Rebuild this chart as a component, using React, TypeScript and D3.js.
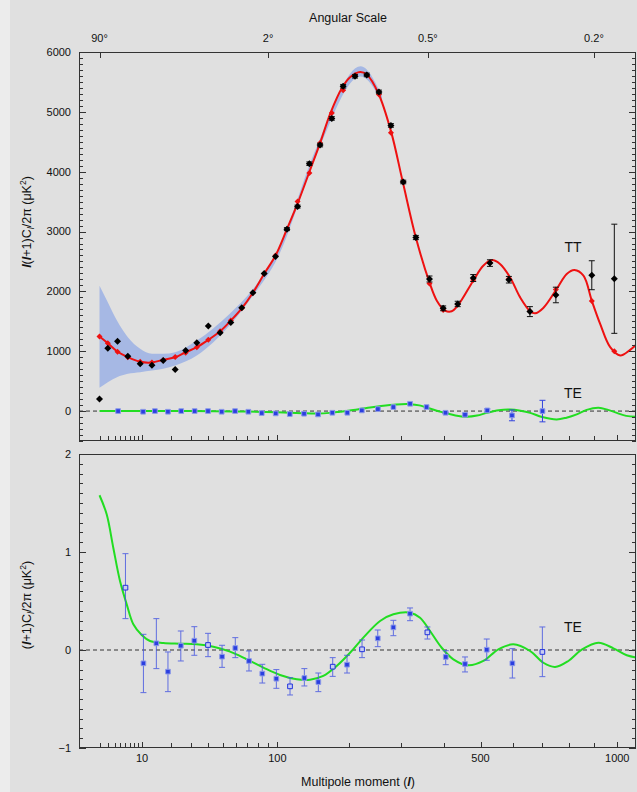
import React, { useEffect, useRef } from "react";
import * as d3 from "d3";

// TT binned data (black diamonds) + binned model (red diamonds)
const ttL = [2, 3, 4.5, 6.5, 9.5, 13, 17, 22, 27, 33, 40, 48, 56, 65, 75, 86, 98, 111, 124, 139.5, 154.5, 172, 190, 210, 231, 254, 278, 304, 332, 364, 398, 436, 479, 528, 587, 657, 750, 891, 987];
const ttV = [200, 1050, 1167, 917, 790, 767, 845, 695, 1012, 1140, 1423, 1307, 1478, 1728, 1978, 2300, 2583, 3040, 3417, 4133, 4445, 4890, 5428, 5595, 5617, 5333, 4773, 3828, 2900, 2207, 1717, 1790, 2223, 2473, 2195, 1662, 1940, 2270, 2211];
const ttErr = [0, 0, 0, 0, 0, 0, 0, 0, 0, 0, 0, 0, 0, 0, 0, 0, 0, 25, 25, 30, 30, 30, 30, 30, 30, 30, 30, 30, 35, 50, 40, 45, 58, 55, 55, 83, 130, 242, 912];
const ttModel = [1245, 1133, 990, 900, 823, 812, 850, 905, 975, 1067, 1190, 1333, 1512, 1717, 1978, 2295, 2600, 3040, 3500, 3980, 4480, 4980, 5360, 5610, 5620, 5290, 4650, 3830, 2900, 2130, 1690, 1780, 2190, 2480, 2210, 1670, 2030, 1840, 1000];

// TT model curve (red line)
const ttCurveL = [2, 3, 4.4, 6.5, 9.5, 13, 17, 22, 27, 33, 40, 48, 56, 65, 75, 86, 98, 111, 125, 140, 155, 170, 188, 202, 219, 231, 253, 278, 303, 332, 364, 382, 403, 420, 438, 479, 508, 534, 559, 591, 624, 658, 675, 704, 753, 791, 821, 857, 891, 926, 969, 1013, 1058, 1090];
const ttCurveV = [1245, 1133, 1000, 900, 823, 812, 857, 900, 983, 1067, 1190, 1333, 1512, 1717, 1978, 2295, 2600, 3040, 3500, 4012, 4495, 4983, 5400, 5583, 5665, 5623, 5307, 4678, 3828, 2900, 2150, 1845, 1678, 1667, 1778, 2178, 2428, 2523, 2457, 2233, 1900, 1667, 1633, 1723, 2040, 2290, 2357, 2262, 1845, 1457, 1067, 928, 1023, 1123];

// cosmic variance band (light blue)
const bandL = [2, 3, 4.4, 6.5, 9.5, 13, 17, 22, 33, 55, 75, 100, 150, 220, 260];
const bandLo = [390, 483, 567, 623, 650, 678, 707, 762, 928, 1428, 1925, 2550, 4300, 5590, 5160];
const bandHi = [2095, 1817, 1512, 1233, 1040, 957, 957, 983, 1178, 1623, 2035, 2665, 4420, 5760, 5260];

// TE in the upper panel, l(l+1)C/2π
const teTopL = [4.6, 10.3, 14, 18.9, 24.8, 31.8, 39.8, 49.1, 59.4, 70.8, 83.5, 98.2, 114.4, 132.4, 151.6, 172.8, 196.9, 222, 252, 283, 319, 357, 404, 456, 520, 597, 701];
const teTopV = [0, -11, 0, -11, 0, 0, 0, -11, 0, -11, -33, -39, -50, -44, -56, -28, -28, 11, 33, 67, 122, 67, -28, -61, 11, -72, 0];
const teTopErr = [0, 0, 0, 0, 0, 0, 0, 0, 0, 0, 0, 0, 0, 0, 0, 0, 0, 0, 0, 0, 0, 0, 10, 15, 25, 90, 180];
const teTopCurveL = [2, 10, 30, 60, 100, 130, 150, 169, 185, 201, 237, 276, 300, 319, 340, 357, 380, 403, 430, 461, 490, 518, 555, 591, 625, 658, 700, 753, 790, 830, 870, 919, 960, 998, 1040, 1090];
const teTopCurveV = [0, 0, 0, -5, -20, -35, -40, -30, -10, 10, 60, 100, 115, 115, 95, 60, 10, -30, -75, -95, -75, -30, 15, 25, 5, -30, -100, -140, -110, -55, 20, 55, 20, -30, -80, -95];

// TE lower panel, (l+1)C/2π
const teL = [6, 10.4, 14.5, 18.9, 24.6, 31.6, 39.8, 49.4, 59.6, 71.4, 84.1, 98.9, 114.7, 132.8, 152, 173.4, 196.4, 222.4, 251.7, 283, 318.9, 359, 404.5, 456, 518.4, 598.3, 700.7];
const teV = [0.636, -0.136, 0.068, -0.221, 0.044, 0.095, 0.051, -0.068, 0.02, -0.112, -0.241, -0.293, -0.371, -0.286, -0.327, -0.17, -0.15, 0.007, 0.119, 0.231, 0.371, 0.18, -0.071, -0.143, 0.003, -0.136, -0.02];
const teHi = [0.983, 0.16, 0.32, -0.02, 0.194, 0.238, 0.17, 0.048, 0.126, -0.01, -0.146, -0.2, -0.282, -0.19, -0.235, -0.078, -0.054, 0.102, 0.204, 0.303, 0.429, 0.235, -0.007, -0.071, 0.112, 0.014, 0.235];
const teLo = [0.32, -0.435, -0.19, -0.425, -0.112, -0.054, -0.068, -0.177, -0.078, -0.214, -0.337, -0.391, -0.459, -0.367, -0.425, -0.269, -0.235, -0.078, 0.034, 0.146, 0.299, 0.112, -0.15, -0.224, -0.105, -0.286, -0.272];
const teOpen = [0, 6, 12, 15, 17, 21, 26];
const teCurveL = [2, 2.85, 3.8, 4.94, 6.26, 7.75, 9.91, 12.38, 17.06, 24.2, 32.9, 43.3, 55.4, 69.3, 85.2, 103, 123, 140.4, 159.2, 179.6, 201.5, 224.7, 256.2, 283, 318.9, 341.7, 365.4, 394.3, 424.4, 465.2, 508.4, 553.8, 601.5, 657.5, 704.3, 747, 797.4, 850, 918.6, 983, 1042.6, 1090];
const teCurveV = [1.579, 1.385, 1.044, 0.704, 0.466, 0.262, 0.153, 0.092, 0.071, 0.064, 0.058, 0.034, -0.017, -0.095, -0.18, -0.255, -0.299, -0.303, -0.265, -0.163, -0.028, 0.126, 0.296, 0.364, 0.381, 0.33, 0.194, 0.023, -0.095, -0.156, -0.112, 0.007, 0.058, -0.01, -0.13, -0.173, -0.112, 0.003, 0.074, 0.017, -0.054, -0.078];

// axes
const lTicks = [2, 3, 4, 5, 6, 7, 8, 9, 10, 20, 30, 40, 50, 60, 70, 80, 90, 100, 200, 300, 400, 500, 600, 700, 800, 900, 1000];
const lLabels = [10, 100, 500, 1000];
const angL = [2, 90, 360, 900];
const angLabels = ["90°", "2°", "0.5°", "0.2°"];
const ttTickLabels = [0, 1000, 2000, 3000, 4000, 5000, 6000];
const teTickLabels = [-1, 0, 1, 2];

const W = 637;
const H = 792;
const FONT = "'Liberation Sans', Arial, sans-serif";

const App: React.FC = () => {
  const svgRef = useRef<SVGSVGElement>(null);

  useEffect(() => {
    if (!svgRef.current) return;
    const svg = d3.select(svgRef.current);
    svg.selectAll("*").remove();

    const left = 79, right = 636;
    const top1 = 52, bot1 = 441, top2 = 454, bot2 = 748;

    const x = d3.scalePow().exponent(0.4).domain([0.477, 1085]).range([left, right]);
    const y1 = d3.scaleLinear().domain([-500, 6000]).range([bot1, top1]);
    const y2 = d3.scaleLinear().domain([-1, 2]).range([bot2, top2]);

    svg.append("rect").attr("width", W).attr("height", H).attr("fill", "#e0e0e0");
    svg.append("rect").attr("width", 10).attr("height", H).attr("fill", "#ececec");

    const defs = svg.append("defs");
    defs.append("clipPath").attr("id", "c1").append("rect")
      .attr("x", left).attr("y", top1).attr("width", right - left).attr("height", bot1 - top1);
    defs.append("clipPath").attr("id", "c2").append("rect")
      .attr("x", left).attr("y", top2).attr("width", right - left).attr("height", bot2 - top2);

    // diamond a bit squatter than d3's default
    const diamond = (r: number) => `M0,${-r}L${r},0L0,${r}L${-r},0Z`;

    // ---------- top panel ----------
    const p1 = svg.append("g").attr("clip-path", "url(#c1)");

    const band = d3.area<number>()
      .x((i) => x(bandL[i]))
      .y0((i) => y1(bandLo[i]))
      .y1((i) => y1(bandHi[i]))
      .curve(d3.curveMonotoneX);
    p1.append("path").attr("d", band(d3.range(bandL.length))).attr("fill", "#a6b8e4");

    p1.append("line")
      .attr("x1", left).attr("x2", right).attr("y1", y1(0)).attr("y2", y1(0))
      .attr("stroke", "#333").attr("stroke-width", 1).attr("stroke-dasharray", "4,3");

    const ttLine = d3.line<number>()
      .x((i) => x(ttCurveL[i]))
      .y((i) => y1(ttCurveV[i]))
      .curve(d3.curveCatmullRom);
    p1.append("path").attr("d", ttLine(d3.range(ttCurveL.length)))
      .attr("fill", "none").attr("stroke", "#ee1111").attr("stroke-width", 2);

    const teTopLine = d3.line<number>()
      .x((i) => x(teTopCurveL[i]))
      .y((i) => y1(teTopCurveV[i]))
      .curve(d3.curveCatmullRom);
    p1.append("path").attr("d", teTopLine(d3.range(teTopCurveL.length)))
      .attr("fill", "none").attr("stroke", "#22dd22").attr("stroke-width", 2);

    // red binned model
    p1.selectAll(".model").data(ttL).enter().append("path")
      .attr("d", diamond(3))
      .attr("transform", (d, i) => `translate(${x(d)},${y1(ttModel[i])})`)
      .attr("fill", "#ee1111");

    // TT error bars
    const errG = p1.append("g").attr("stroke", "#111").attr("stroke-width", 1);
    ttL.forEach((l, i) => {
      if (!ttErr[i]) return;
      const cx = x(l), a = y1(ttV[i] + ttErr[i]), b = y1(ttV[i] - ttErr[i]);
      errG.append("line").attr("x1", cx).attr("x2", cx).attr("y1", a).attr("y2", b);
      errG.append("line").attr("x1", cx - 3).attr("x2", cx + 3).attr("y1", a).attr("y2", a);
      errG.append("line").attr("x1", cx - 3).attr("x2", cx + 3).attr("y1", b).attr("y2", b);
    });
    p1.selectAll(".tt").data(ttL).enter().append("path")
      .attr("d", diamond(3.5))
      .attr("transform", (d, i) => `translate(${x(d)},${y1(ttV[i])})`)
      .attr("fill", "#000");

    // TE points on top panel
    const teTopErrG = p1.append("g").attr("stroke", "#3344dd").attr("stroke-width", 1);
    teTopL.forEach((l, i) => {
      if (!teTopErr[i]) return;
      const cx = x(l), a = y1(teTopV[i] + teTopErr[i]), b = y1(teTopV[i] - teTopErr[i]);
      teTopErrG.append("line").attr("x1", cx).attr("x2", cx).attr("y1", a).attr("y2", b);
      teTopErrG.append("line").attr("x1", cx - 3).attr("x2", cx + 3).attr("y1", a).attr("y2", a);
      teTopErrG.append("line").attr("x1", cx - 3).attr("x2", cx + 3).attr("y1", b).attr("y2", b);
    });
    p1.selectAll(".tetop").data(teTopL).enter().append("path")
      .attr("d", d3.symbol(d3.symbolSquare, 22)())
      .attr("transform", (d, i) => `translate(${x(d)},${y1(teTopV[i])})`)
      .attr("fill", "#2b3fe0").attr("stroke", "#8d9ae8").attr("stroke-width", 1);

    // ---------- bottom panel ----------
    const p2 = svg.append("g").attr("clip-path", "url(#c2)");
    p2.append("line")
      .attr("x1", left).attr("x2", right).attr("y1", y2(0)).attr("y2", y2(0))
      .attr("stroke", "#333").attr("stroke-width", 1).attr("stroke-dasharray", "4,3");

    const teLine = d3.line<number>()
      .x((i) => x(teCurveL[i]))
      .y((i) => y2(teCurveV[i]))
      .curve(d3.curveCatmullRom);
    p2.append("path").attr("d", teLine(d3.range(teCurveL.length)))
      .attr("fill", "none").attr("stroke", "#22dd22").attr("stroke-width", 2);

    const teErrG = p2.append("g").attr("stroke", "#4a5ae0").attr("stroke-width", 1).attr("opacity", 0.85);
    teL.forEach((l, i) => {
      const cx = x(l), a = y2(teHi[i]), b = y2(teLo[i]);
      teErrG.append("line").attr("x1", cx).attr("x2", cx).attr("y1", a).attr("y2", b);
      teErrG.append("line").attr("x1", cx - 3).attr("x2", cx + 3).attr("y1", a).attr("y2", a);
      teErrG.append("line").attr("x1", cx - 3).attr("x2", cx + 3).attr("y1", b).attr("y2", b);
    });
    p2.selectAll(".te").data(teL).enter().append("path")
      .attr("d", d3.symbol(d3.symbolSquare, 22)())
      .attr("transform", (d, i) => `translate(${x(d)},${y2(teV[i])})`)
      .attr("fill", (d, i) => (teOpen.includes(i) ? "#c9cdf0" : "#2b3fe0"))
      .attr("stroke", (d, i) => (teOpen.includes(i) ? "#2233dd" : "#8d9ae8"))
      .attr("stroke-width", 1);

    // ---------- frames and ticks ----------
    const axG = svg.append("g").attr("stroke", "#333").attr("stroke-width", 1).attr("fill", "none");
    axG.append("rect").attr("x", left + 0.5).attr("y", top1 + 0.5)
      .attr("width", right - left - 1).attr("height", bot1 - top1 - 1);
    axG.append("rect").attr("x", left + 0.5).attr("y", top2 + 0.5)
      .attr("width", right - left - 1).attr("height", bot2 - top2 - 1);

    d3.range(-500, 6001, 100).forEach((v) => {
      const len = v % 1000 === 0 ? 7 : 4;
      const yy = Math.round(y1(v)) + 0.5;
      axG.append("line").attr("x1", left).attr("x2", left + len).attr("y1", yy).attr("y2", yy);
      axG.append("line").attr("x1", right - len).attr("x2", right).attr("y1", yy).attr("y2", yy);
    });
    d3.range(-10, 21).forEach((k) => {
      const len = k % 10 === 0 ? 7 : 4;
      const yy = Math.round(y2(k / 10)) + 0.5;
      axG.append("line").attr("x1", left).attr("x2", left + len).attr("y1", yy).attr("y2", yy);
      axG.append("line").attr("x1", right - len).attr("x2", right).attr("y1", yy).attr("y2", yy);
    });
    lTicks.forEach((l) => {
      const xx = Math.round(x(l)) + 0.5;
      const len = lLabels.includes(l) ? 6 : 5;
      axG.append("line").attr("x1", xx).attr("x2", xx).attr("y1", bot1).attr("y2", bot1 - len);
      axG.append("line").attr("x1", xx).attr("x2", xx).attr("y1", bot2).attr("y2", bot2 - len);
    });
    angL.forEach((l) => {
      const xx = Math.round(x(l)) + 0.5;
      axG.append("line").attr("x1", xx).attr("x2", xx).attr("y1", top1).attr("y2", top1 + 6);
    });

    // ---------- text ----------
    const txt = svg.append("g").attr("font-family", FONT).attr("fill", "#111");
    ttTickLabels.forEach((v) => {
      txt.append("text").attr("x", 71).attr("y", y1(v)).attr("dy", "0.35em")
        .attr("text-anchor", "end").attr("font-size", 11).text(v);
    });
    teTickLabels.forEach((v) => {
      txt.append("text").attr("x", 71).attr("y", y2(v)).attr("dy", "0.35em")
        .attr("text-anchor", "end").attr("font-size", 11).text(v < 0 ? `\u2212${-v}` : `${v}`);
    });
    lLabels.forEach((l) => {
      txt.append("text").attr("x", x(l)).attr("y", 762)
        .attr("text-anchor", "middle").attr("font-size", 11).text(l);
    });
    angL.forEach((l, i) => {
      txt.append("text").attr("x", x(l)).attr("y", 42)
        .attr("text-anchor", "middle").attr("font-size", 11).text(angLabels[i]);
    });
    txt.append("text").attr("x", 348).attr("y", 22).attr("text-anchor", "middle")
      .attr("font-size", 12.5).text("Angular Scale");

    const xl = txt.append("text").attr("x", 358).attr("y", 786).attr("text-anchor", "middle").attr("font-size", 12.5);
    xl.append("tspan").text("Multipole moment (");
    xl.append("tspan").attr("font-style", "italic").attr("font-weight", "bold").text("l");
    xl.append("tspan").text(")");

    txt.append("text").attr("x", 573).attr("y", 252).attr("text-anchor", "middle").attr("font-size", 14).text("TT");
    txt.append("text").attr("x", 573).attr("y", 398).attr("text-anchor", "middle").attr("font-size", 14).text("TE");
    txt.append("text").attr("x", 573).attr("y", 632).attr("text-anchor", "middle").attr("font-size", 14).text("TE");

    const yl1 = txt.append("text").attr("transform", "translate(31,222) rotate(-90)")
      .attr("text-anchor", "middle").attr("font-size", 12.5);
    yl1.append("tspan").attr("font-style", "italic").attr("font-weight", "bold").text("l");
    yl1.append("tspan").text("(");
    yl1.append("tspan").attr("font-style", "italic").attr("font-weight", "bold").text("l");
    yl1.append("tspan").text("+1)C");
    yl1.append("tspan").attr("font-style", "italic").attr("font-size", 9).attr("dy", 3).text("l");
    yl1.append("tspan").attr("dy", -3).text("/2\u03c0 (\u03bcK");
    yl1.append("tspan").attr("font-size", 8.5).attr("dy", -5).text("2");
    yl1.append("tspan").attr("dy", 5).text(")");

    const yl2 = txt.append("text").attr("transform", "translate(31,605) rotate(-90)")
      .attr("text-anchor", "middle").attr("font-size", 12.5);
    yl2.append("tspan").text("(");
    yl2.append("tspan").attr("font-style", "italic").attr("font-weight", "bold").text("l");
    yl2.append("tspan").text("+1)C");
    yl2.append("tspan").attr("font-style", "italic").attr("font-size", 9).attr("dy", 3).text("l");
    yl2.append("tspan").attr("dy", -3).text("/2\u03c0 (\u03bcK");
    yl2.append("tspan").attr("font-size", 8.5).attr("dy", -5).text("2");
    yl2.append("tspan").attr("dy", 5).text(")");
  }, []);

  return (
    <svg
      ref={svgRef}
      width={W}
      height={H}
      style={{ position: "absolute", left: 0, top: 0, display: "block" }}
    />
  );
};

export default App;
